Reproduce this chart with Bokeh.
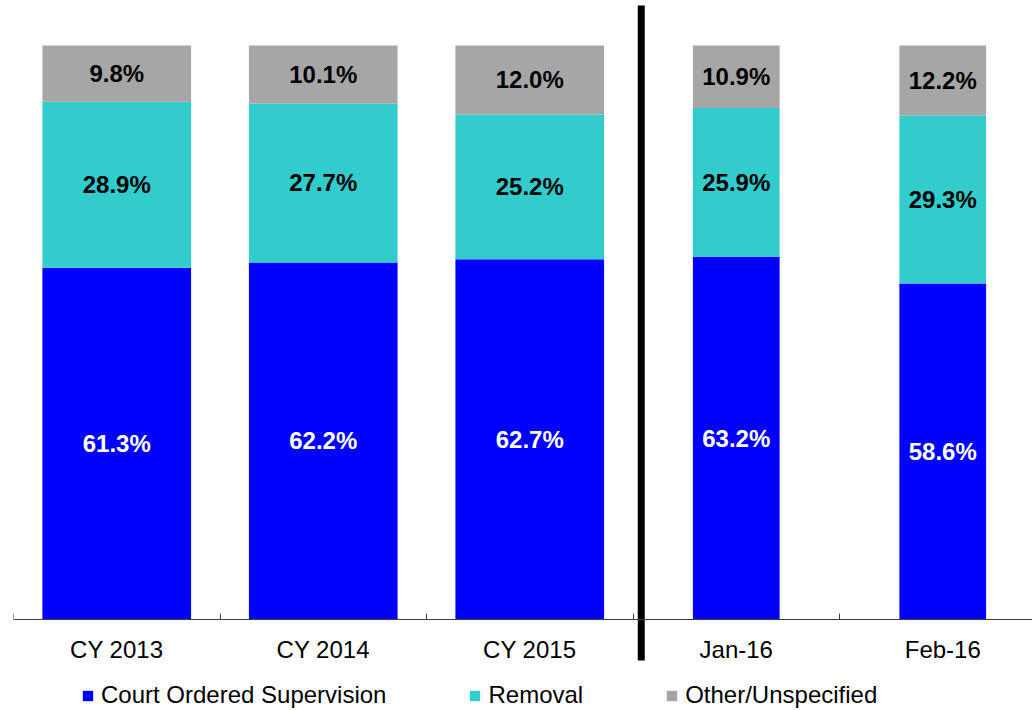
from bokeh.plotting import figure
from bokeh.models import ColumnDataSource, Range1d, FixedTicker, Legend
from bokeh.core.properties import value
from bokeh.embed import file_html
from bokeh.resources import INLINE

# ---- data ----
categories = ["CY 2013", "CY 2014", "CY 2015", "Jan-16", "Feb-16"]
court_ordered = [61.3, 62.2, 62.7, 63.2, 58.6]
removal = [28.9, 27.7, 25.2, 25.9, 29.3]
other = [9.8, 10.1, 12.0, 10.9, 12.2]
series_names = ["Court Ordered Supervision", "Removal", "Other/Unspecified"]

# ---- styles ----
colors = ["#0000FF", "#33CCCC", "#A6A6A6"]
FONT = "Liberation Sans"

n = len(categories)
xs = [i + 0.5 for i in range(n)]
widths = [0.72 if c.startswith("CY") else 0.42 for c in categories]

# 100% stacked: normalise each column to its total
totals = [a + b + c for a, b, c in zip(court_ordered, removal, other)]
norm = lambda vals: [100 * v / t for v, t in zip(vals, totals)]
court_n, removal_n, other_n = norm(court_ordered), norm(removal), norm(other)

src = ColumnDataSource(dict(
    x=xs, w=widths, court=court_n, removal=removal_n, other=other_n,
))

p = figure(width=1032, height=710, output_backend="svg", toolbar_location=None,
           x_range=Range1d(0, 1019 / 206.5), y_range=Range1d(-15.85, 107.84),
           min_border_left=13, min_border_right=0, min_border_top=0, min_border_bottom=0)
p.outline_line_color = None
p.xgrid.visible = False
p.ygrid.visible = False
p.yaxis.visible = False

renderers = p.vbar_stack(["court", "removal", "other"], x="x", width="w", source=src,
                         color=colors, line_color=None)

# labels
cum0 = [0.0] * n
text_colors = ["white", "black", "black"]
for vals, raw, tc in zip([court_n, removal_n, other_n], [court_ordered, removal, other], text_colors):
    mids = [c + v / 2 for c, v in zip(cum0, vals)]
    lsrc = ColumnDataSource(dict(x=xs, y=mids, t=[f"{v:.1f}%" for v in raw]))
    p.text(x="x", y="y", text="t", source=lsrc, text_align="center", text_baseline="middle",
           text_font=value(FONT), text_font_style="bold", text_font_size="24px", text_color=tc)
    cum0 = [c + v for c, v in zip(cum0, vals)]

# divider between annual and monthly data
divider_x = 3.04
p.segment(x0=[divider_x], y0=[-7.14], x1=[divider_x], y1=[106.97], line_color="black",
          line_width=7, line_cap="butt")

# x axis
ax = p.xaxis[0]
ax.fixed_location = 0
ax.ticker = FixedTicker(ticks=xs, minor_ticks=list(range(n)))
ax.major_label_overrides = {x: c for x, c in zip(xs, categories)}
ax.major_tick_in = 0
ax.major_tick_out = 0
ax.minor_tick_in = 6
ax.minor_tick_out = 0
ax.minor_tick_line_color = "#404040"
ax.axis_line_color = "#404040"
ax.major_label_standoff = 16
ax.major_label_text_font = FONT
ax.major_label_text_font_size = "24px"
ax.major_label_text_color = "black"

legend = Legend(items=[(name, [r]) for name, r in zip(series_names, renderers)],
                location=(68, 1), orientation="horizontal",
                label_text_font=FONT, label_text_font_size="24px", label_text_color="black",
                glyph_width=13, glyph_height=13, label_standoff=7, spacing=82,
                padding=0, margin=0, border_line_color=None, background_fill_alpha=0)
p.add_layout(legend, "center")

open("out.html", "w").write(file_html(p, INLINE))
